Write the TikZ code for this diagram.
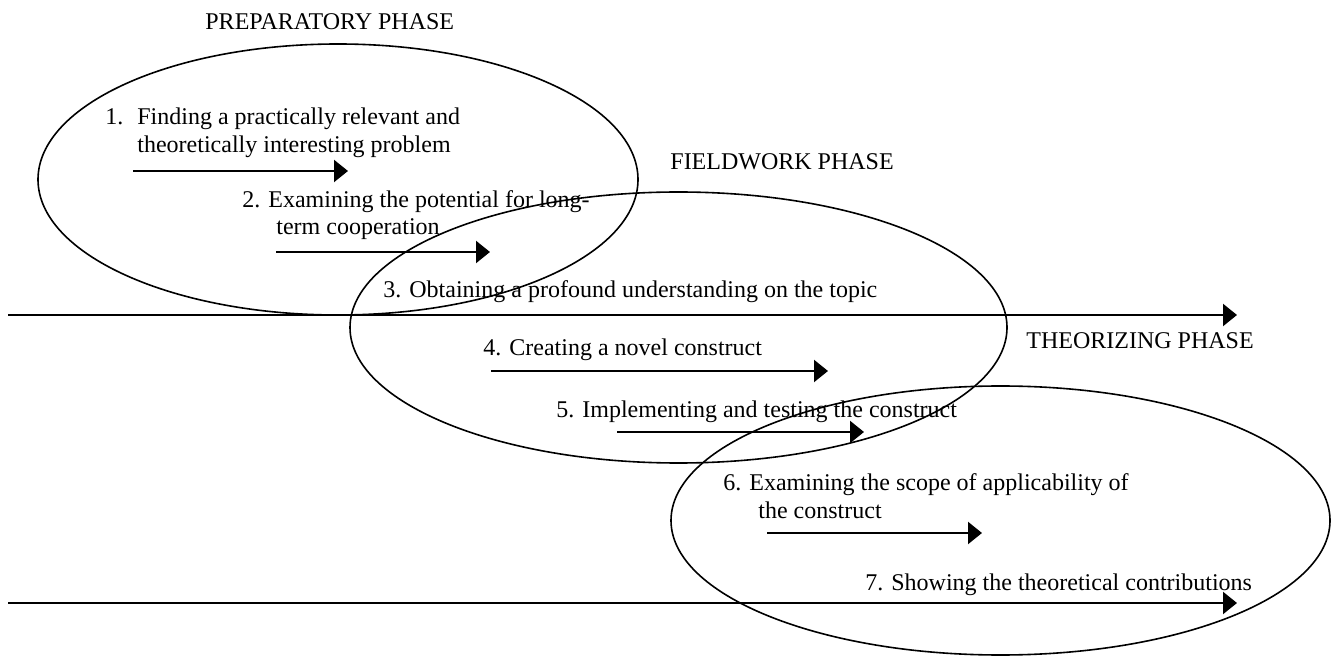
\documentclass[tikz,border=0pt]{standalone}
\usepackage{fontspec}
\setmainfont{Liberation Serif}
\usepackage{tikz}
\usetikzlibrary{arrows.meta}

\begin{document}
\begin{tikzpicture}[x=0.5pt,y=-0.5pt,
  ring/.style={line width=0.8pt},
  flow/.style={line width=1.1pt,-{Triangle[length=7pt,width=11pt]}},
  txt/.style={anchor=base west,inner sep=0pt,font=\fontsize{12}{14}\selectfont}]
\useasboundingbox (0,0) rectangle (1338,657);

% the three phases
\draw[ring] (338,179.5) ellipse [x radius=300, y radius=135.5];
\draw[ring] (678.5,327.5) ellipse [x radius=328.5, y radius=135.5];
\draw[ring] (1000.5,520.5) ellipse [x radius=329.5, y radius=134.5];

\node[txt] (prep) at (205,30) {PREPARATORY PHASE};
\node[txt] (field) at (670,170) {FIELDWORK PHASE};
\node[txt] (theo) at (1026,349) {THEORIZING PHASE};

% time lines
\coordinate (t1s) at (8,315);   \coordinate (t1e) at (1237,315);
\coordinate (t2s) at (8,603);   \coordinate (t2e) at (1237,603);
\draw[flow] (t1s) -- (t1e);
\draw[flow] (t2s) -- (t2e);

% steps
\node[txt] (s1n) at (105,125) {1.};
\node[txt] (s1a) at (137,125) {Finding a practically relevant and};
\node[txt] (s1b) at (137,153) {theoretically interesting problem};
\node[txt] (s2a) at (242,208) {2. Examining the potential for long-};
\node[txt] (s2b) at (276,235) {term cooperation};
\node[txt] (s3) at (383,298) {3. Obtaining a profound understanding on the topic};
\node[txt] (s4) at (483,356) {4. Creating a novel construct};
\node[txt] (s5) at (556,417) {5. Implementing and testing the construct};
\node[txt] (s6a) at (723,490) {6. Examining the scope of applicability of};
\node[txt] (s6b) at (758,518) {the construct};
\node[txt] (s7) at (865,590) {7. Showing the theoretical contributions};

% step arrows
\coordinate (a1s) at (133,171); \coordinate (a1e) at (348,171);
\coordinate (a2s) at (276,252); \coordinate (a2e) at (490,252);
\coordinate (a4s) at (491,371); \coordinate (a4e) at (828,371);
\coordinate (a5s) at (617,432); \coordinate (a5e) at (864,432);
\coordinate (a6s) at (767,533); \coordinate (a6e) at (982,533);
\foreach \a in {a1,a2,a4,a5,a6}
  \draw[flow] (\a s) -- (\a e);
\end{tikzpicture}
\end{document}
